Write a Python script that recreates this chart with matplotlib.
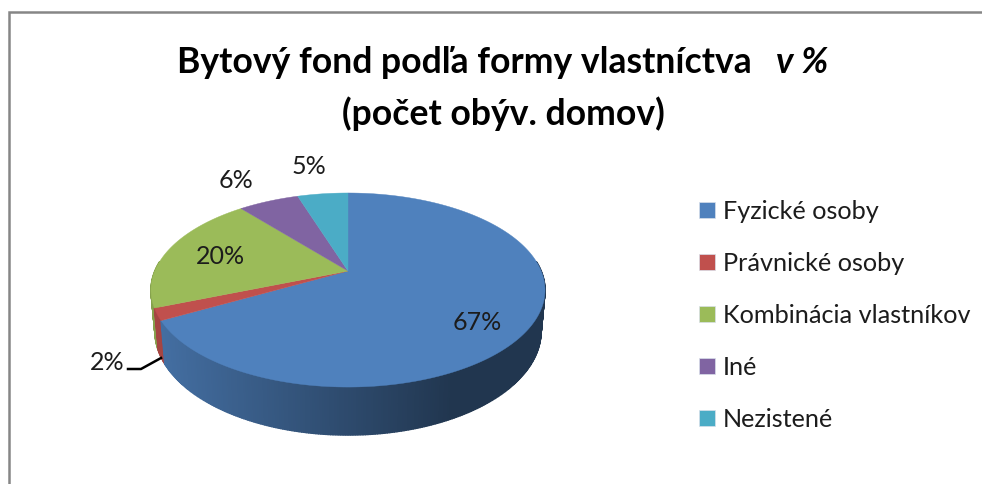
import numpy as np
import matplotlib
matplotlib.use('Agg')
import matplotlib.pyplot as plt
from matplotlib.patches import Polygon, Rectangle

plt.rcParams['font.family'] = ['Lato', 'DejaVu Sans']

categories = ['Fyzické osoby', 'Právnické osoby', 'Kombinácia vlastníkov', 'Iné', 'Nezistené']
values = [67, 2, 20, 6, 5]
labels = ['67%', '2%', '20%', '6%', '5%']
colors = ['#4F81BD', '#C0504D', '#9BBB59', '#8064A2', '#4BACC6']
title_main = 'Bytový fond podľa formy vlastníctva'
title_unit = 'v %'
title_sub = '(počet obýv. domov)'

# pie geometry in picture pixels, fitted to the perspective of the excel chart
cx, cy = 348, 271
a, b, k = 193.2, 93.3, 0.196
label_pos = [(477, 323), (107, 362), (220, 257), (236, 181), (309, 167)]


def top_point(frac):
    # frac goes clockwise from 12 o'clock
    t = 2 * np.pi * np.asarray(frac)
    u, v = np.sin(t), np.cos(t)
    w = 1 + k * v
    return cx + a * u / w, cy - b * v / w


def bottom_point(frac):
    x, y = top_point(frac)
    return cx + (x - cx) * 0.98, 310.9 + 1.07 * (y - cy)


def shade(color, x):
    # side wall goes darker from left to right, flat after about x=450
    rgb = np.array(matplotlib.colors.to_rgb(color))
    f = np.clip((x - 160) / 290, 0, 1)
    return tuple(rgb * (0.86 - 0.44 * f))


fig = plt.figure(figsize=(9.82, 4.84), dpi=100, facecolor='white')
ax = fig.add_axes([0, 0, 1, 1])
ax.set_xlim(0, 982)
ax.set_ylim(484, 0)
ax.axis('off')

# chart frame
ax.plot([9.5, 9.5, 982], [484, 12, 12], color='#868686', lw=1.8, solid_joinstyle='miter')

edges = np.cumsum([0] + values) / sum(values)

# side wall, small quads painted back to front, back part is hidden anyway
quads = []
for i in range(len(values)):
    n = max(4, values[i] * 6)
    steps = np.linspace(edges[i], edges[i + 1], n + 1)
    for s0, s1 in zip(steps[:-1], steps[1:]):
        if np.cos(np.pi * (s0 + s1)) > 0.1:
            continue
        x0, y0 = top_point(s0)
        x1, y1 = top_point(s1)
        x2, y2 = bottom_point(s1)
        x3, y3 = bottom_point(s0)
        quads.append(((y0 + y1) / 2, [(x0, y0), (x1, y1), (x2, y2), (x3, y3)], colors[i]))
quads.sort(key=lambda q: q[0])
for _, pts, col in quads:
    c = shade(col, np.mean([p[0] for p in pts]))
    ax.add_patch(Polygon(pts, closed=True, facecolor=c, edgecolor=c, lw=1.0))

# top face
for i in range(len(values)):
    steps = np.linspace(edges[i], edges[i + 1], max(8, values[i] * 6))
    xs, ys = top_point(steps)
    pts = [(cx, cy)] + list(zip(xs, ys))
    ax.add_patch(Polygon(pts, closed=True, facecolor=colors[i], edgecolor=colors[i], lw=0.3))

# data labels
for lab, (x, y) in zip(labels, label_pos):
    ax.text(x, y, lab, fontsize=18, color='#1c1c1c', ha='center', va='center')
ax.plot([128, 141, 161], [369, 369, 358], color='black', lw=1.8)

# title
ax.text(177, 73, title_main, fontsize=25.6, fontweight='bold', color='black', ha='left', va='baseline')
ax.text(776, 73, title_unit, fontsize=25.6, fontweight='bold', style='italic', color='black', ha='left', va='baseline')
ax.text(503, 125, title_sub, fontsize=25.6, fontweight='bold', color='black', ha='center', va='baseline')

# legend
for i, name in enumerate(categories):
    y = 210 + i * 52
    ax.add_patch(Rectangle((699, y - 8), 16, 16, facecolor=colors[i], edgecolor='#d8e0ea', lw=0.5))
    ax.text(723, y + 1.5, name, fontsize=18.2, color='#1c1c1c', ha='left', va='center')

fig.savefig('out.png', dpi=100)
